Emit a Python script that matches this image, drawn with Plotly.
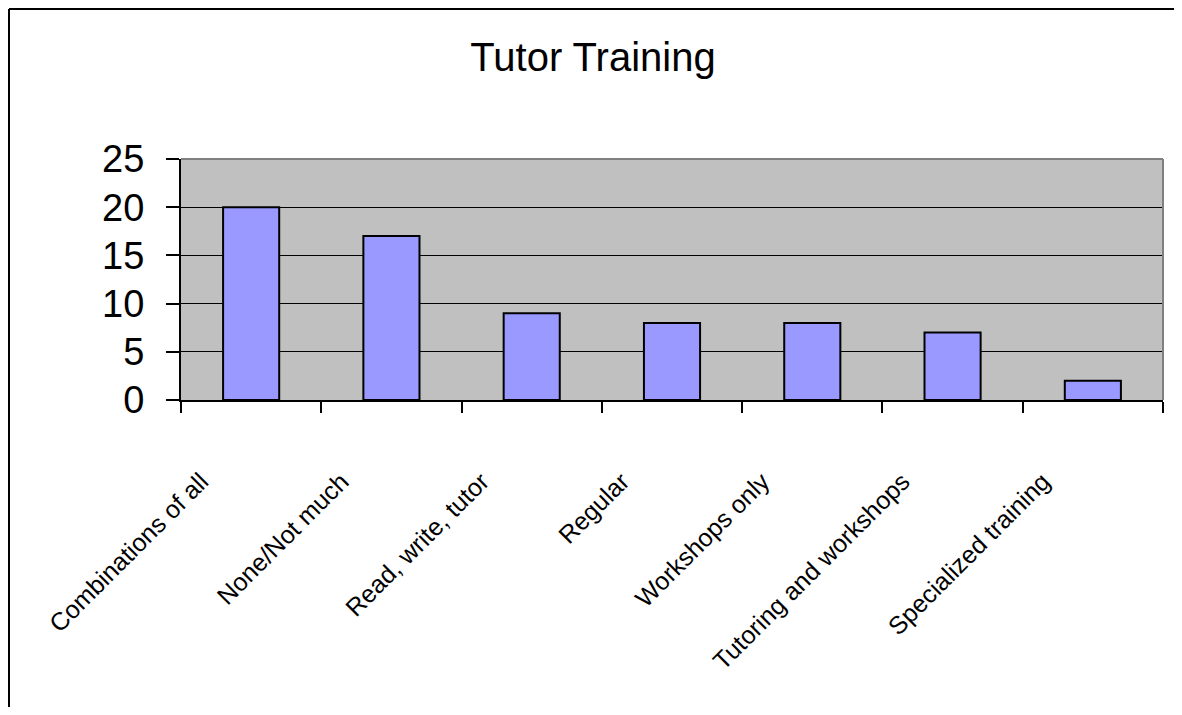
import plotly.graph_objects as go

# ---------- 数据 ----------
categories = [
    "Combinations of all",
    "None/Not much",
    "Read, write, tutor",
    "Regular",
    "Workshops only",
    "Tutoring and workshops",
    "Specialized training",
]
counts = [20, 17, 9, 8, 8, 7, 2]
y_ticks = [0, 5, 10, 15, 20, 25]

FONT = "Liberation Sans, Arial, sans-serif"

# 页面 body 默认 8px 边距，画布尺寸相应缩小以免出现滚动条
W, H = 1166, 699
L, R, T, B = 173, 11, 151, 307
plot_w = W - L - R
plot_h = H - T - B

fig = go.Figure()
fig.add_trace(go.Bar(
    x=categories,
    y=counts,
    marker=dict(color="#9999FF", line=dict(color="#000000", width=2)),
    showlegend=False,
))

# 外框（只有左、上两边在画面内）
x_left = (1 - L) / plot_w
y_top = (plot_h + T - 1) / plot_h
fig.add_shape(type="line", xref="paper", yref="paper",
              x0=x_left, x1=x_left, y0=-B / plot_h, y1=y_top,
              line=dict(color="#000000", width=2), layer="above")
fig.add_shape(type="line", xref="paper", yref="paper",
              x0=x_left, x1=(W - L) / plot_w, y0=y_top, y1=y_top,
              line=dict(color="#000000", width=2), layer="above")
# 绘图区灰色上/右边框
fig.add_shape(type="line", xref="paper", yref="paper", x0=0, x1=1, y0=1, y1=1,
              line=dict(color="#808080", width=2), layer="above")
fig.add_shape(type="line", xref="paper", yref="paper", x0=1, x1=1, y0=0, y1=1,
              line=dict(color="#808080", width=2), layer="above")

fig.update_layout(
    width=W,
    height=H,
    paper_bgcolor="#FFFFFF",
    plot_bgcolor="#C0C0C0",
    bargap=0.6,
    margin=dict(l=L, r=R, t=T, b=B),
    font=dict(family=FONT, color="#000000"),
    title=dict(text="Tutor Training", x=585 / W, xref="container", xanchor="center",
               y=1 - 49 / H, yref="container", yanchor="middle",
               font=dict(family=FONT, size=40, color="#000000")),
)
fig.update_xaxes(
    type="category",
    showline=True, linecolor="#000000", linewidth=2,
    ticks="outside", tickson="boundaries", ticklen=11, tickwidth=2, tickcolor="#000000",
    tickangle=-45, tickfont=dict(family=FONT, size=25, color="#000000"),
    ticklabelstandoff=55, ticklabelshift=-50,
    showgrid=False,
)
fig.update_yaxes(
    range=[0, 25], tickvals=y_ticks,
    showline=True, linecolor="#000000", linewidth=2,
    ticks="outside", ticklen=13, tickwidth=2, tickcolor="#000000",
    tickfont=dict(family=FONT, size=38, color="#000000"),
    ticklabelstandoff=14,
    showgrid=True, gridcolor="#000000", gridwidth=1,
    zeroline=False,
)

fig.write_html("out.html")
